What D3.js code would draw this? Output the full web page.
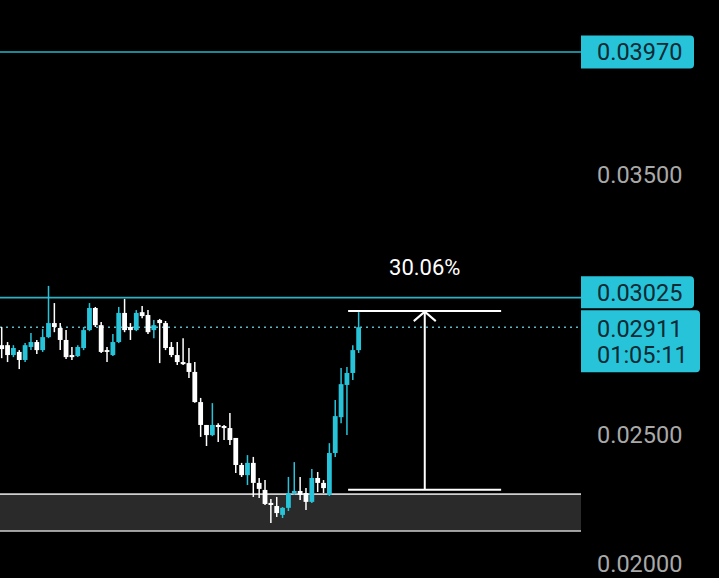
<!DOCTYPE html>
<html><head><meta charset="utf-8">
<script src="https://cdn.jsdelivr.net/npm/d3@7"></script>
<style>html,body{margin:0;padding:0;background:#000;overflow:hidden}svg{display:block}</style>
</head><body>
<svg id="c" width="719" height="578"></svg>
<script>
const opens  = [.02842,.02842,.02804,.02816,.02785,.02835,.02854,.02823,.02873,.02927,
                .02908,.02862,.02804,.02800,.02831,.02900,.02985,.02919,.02823,.02804,
                .02854,.02966,.02912,.02900,.02969,.02958,.02900,.02939,.02927,.02835,
                .02804,.02777,.02773,.02739,.02623,.02535,.02496,.02535,.02531,.02523,
                .02485,.02381,.02342,.02389,.02312,.02285,.02235,.02223,.02189,.02216,
                .02273,.02281,.02273,.02239,.02331,.02312,.02266,.02427,.02565,.02689,
                .02735,.02823];
const closes = [.02827,.02804,.02831,.02785,.02842,.02854,.02823,.02873,.02927,.02912,
                .02862,.02796,.02796,.02835,.02900,.02985,.02919,.02816,.02816,.02854,
                .02966,.02900,.02900,.02966,.02954,.02892,.02919,.02927,.02831,.02804,
                .02777,.02769,.02739,.02623,.02535,.02496,.02535,.02527,.02523,.02477,
                .02381,.02342,.02389,.02312,.02289,.02231,.02227,.02196,.02216,.02273,
                .02281,.02266,.02239,.02331,.02312,.02292,.02427,.02569,.02692,.02735,
                .02823,.02911];
const highs  = [.02912,.02854,.02842,.02823,.02850,.02889,.02862,.02904,.03070,.03004,
                .02927,.02900,.02835,.02842,.02912,.03004,.02989,.02931,.02835,.02885,
                .02989,.03020,.02927,.02977,.02993,.02977,.02939,.02943,.02935,.02854,
                .02854,.02869,.02831,.02777,.02639,.02535,.02619,.02542,.02535,.02581,
                .02485,.02389,.02419,.02412,.02331,.02323,.02250,.02258,.02219,.02335,
                .02392,.02335,.02292,.02366,.02354,.02323,.02465,.02631,.02754,.02758,
                .02842,.02969];
const lows   = [.02792,.02777,.02796,.02750,.02777,.02823,.02808,.02816,.02869,.02892,
                .02823,.02789,.02785,.02796,.02823,.02896,.02912,.02812,.02777,.02800,
                .02850,.02892,.02862,.02896,.02946,.02885,.02869,.02773,.02823,.02796,
                .02766,.02766,.02716,.02620,.02489,.02454,.02492,.02469,.02477,.02458,
                .02350,.02335,.02304,.02258,.02254,.02227,.02158,.02181,.02177,.02204,
                .02266,.02246,.02208,.02235,.02277,.02273,.02262,.02412,.02542,.02496,
                .02708,.02812];

const priceLines = [0.03970, 0.03025];
const lastPrice = 0.02911;
const countdown = "01:05:11";
const axisTicks = [0.03500, 0.02500, 0.02000];
const zoneRange = [0.02127, 0.02269];
const measurePrices = [0.02286, 0.02973];
const measureSpan = [59.2, 85.35, 72.3];   // from, to, arrow (bar index units)
const measureLabel = "30.06%";

const W = 719, H = 578, plotRight = 581;
const svg = d3.select("#c");
svg.append("rect").attr("width", W).attr("height", H).attr("fill", "#000");

const x = d3.scaleLinear().domain([-0.29, 99]).range([0, plotRight]);
const y = d3.scaleLinear().domain([0.02, 0.0397]).range([564, 52]);

const CYAN = "#27c3d9", LINE = "#2ab3c7";
const fmt = d3.format(".5f");

// zone band
const zTop = y(zoneRange[1]), zBot = y(zoneRange[0]);
svg.append("rect").attr("x", 0).attr("y", zTop).attr("width", plotRight).attr("height", zBot - zTop).attr("fill", "#2a2a2a");
[zTop, zBot].forEach(v => svg.append("line").attr("x1", 0).attr("x2", plotRight).attr("y1", v).attr("y2", v)
  .attr("stroke", "#cfcfcf").attr("stroke-width", 1.6));

// price lines
priceLines.forEach(p => svg.append("line").attr("x1", 0).attr("x2", plotRight).attr("y1", y(p)).attr("y2", y(p))
  .attr("stroke", LINE).attr("stroke-width", 1.6));
svg.append("line").attr("x1", 0).attr("x2", plotRight).attr("y1", y(lastPrice)).attr("y2", y(lastPrice))
  .attr("stroke", "#5fb7c3").attr("stroke-width", 1.5).attr("stroke-dasharray", "2,4");

// candles
const data = opens.map((o, i) => ({i, o, c: closes[i], h: highs[i], l: lows[i]}));
const g = svg.append("g");
const bw = 4.8;
g.selectAll("line.w").data(data).join("line")
  .attr("x1", d => x(d.i)).attr("x2", d => x(d.i))
  .attr("y1", d => y(d.h)).attr("y2", d => y(d.l))
  .attr("stroke", d => d.c >= d.o ? CYAN : "#fff").attr("stroke-width", 1.5);
g.selectAll("rect.b").data(data).join("rect")
  .attr("x", d => x(d.i) - bw / 2).attr("width", bw)
  .attr("y", d => y(Math.max(d.o, d.c)))
  .attr("height", d => Math.max(1.5, Math.abs(y(d.o) - y(d.c))))
  .attr("fill", d => d.c >= d.o ? CYAN : "#fff");

// measure tool
const mx1 = x(measureSpan[0]), mx2 = x(measureSpan[1]), ma = x(measureSpan[2]);
const mLow = y(measurePrices[0]), mHigh = y(measurePrices[1]);
[mLow, mHigh].forEach(v => svg.append("line").attr("x1", mx1).attr("x2", mx2).attr("y1", v).attr("y2", v)
  .attr("stroke", "#fff").attr("stroke-width", 2));
svg.append("line").attr("x1", ma).attr("x2", ma).attr("y1", mLow).attr("y2", mHigh + 1)
  .attr("stroke", "#fff").attr("stroke-width", 2);
svg.append("path").attr("d", `M${ma - 11},${mHigh + 10}L${ma},${mHigh + 0.5}L${ma + 11},${mHigh + 10}`)
  .attr("fill", "none").attr("stroke", "#fff").attr("stroke-width", 2);
svg.append("text").attr("x", ma).attr("y", mHigh - 36).attr("text-anchor", "middle")
  .attr("font-family", "Roboto, sans-serif").attr("font-size", 22).attr("fill", "#fff").text(measureLabel);

// axis tick labels
svg.selectAll("text.tick").data(axisTicks).join("text")
  .attr("x", 597).attr("y", d => y(d)).attr("dy", "0.36em")
  .attr("font-family", "Roboto, sans-serif").attr("font-size", 23.5).attr("fill", "#a9a9a9")
  .text(d => fmt(d));

// label boxes
function box(x0, y0, w, h) {
  const r = 4;
  return `M${x0},${y0}H${x0 + w - r}Q${x0 + w},${y0} ${x0 + w},${y0 + r}V${y0 + h - r}Q${x0 + w},${y0 + h} ${x0 + w - r},${y0 + h}H${x0}Z`;
}
const TXT = "#0b2a33";
// 0.03970
const b1 = y(priceLines[0]) - 16.5;
svg.append("path").attr("d", box(581, b1, 113, 33)).attr("fill", CYAN);
svg.append("text").attr("x", 597).attr("y", b1 + 16.5).attr("dy", "0.36em")
  .attr("font-family", "Roboto, sans-serif").attr("font-size", 23.5).attr("fill", TXT).text(fmt(priceLines[0]));
// current price
const b3 = y(lastPrice) - 17;
svg.append("path").attr("d", box(581, b3, 119, 62)).attr("fill", CYAN);
svg.append("text").attr("x", 597).attr("y", b3 + 27)
  .attr("font-family", "Roboto, sans-serif").attr("font-size", 23.5).attr("fill", TXT).text(fmt(lastPrice));
svg.append("text").attr("x", 597).attr("y", b3 + 53)
  .attr("font-family", "Roboto, sans-serif").attr("font-size", 23.5).attr("fill", TXT).text(countdown);
// 0.03025
const b2 = b3 - 34;
svg.append("path").attr("d", box(581, b2, 113, 32)).attr("fill", CYAN);
svg.append("text").attr("x", 597).attr("y", b2 + 16).attr("dy", "0.36em")
  .attr("font-family", "Roboto, sans-serif").attr("font-size", 23.5).attr("fill", TXT).text(fmt(priceLines[1]));
</script>
</body></html>
